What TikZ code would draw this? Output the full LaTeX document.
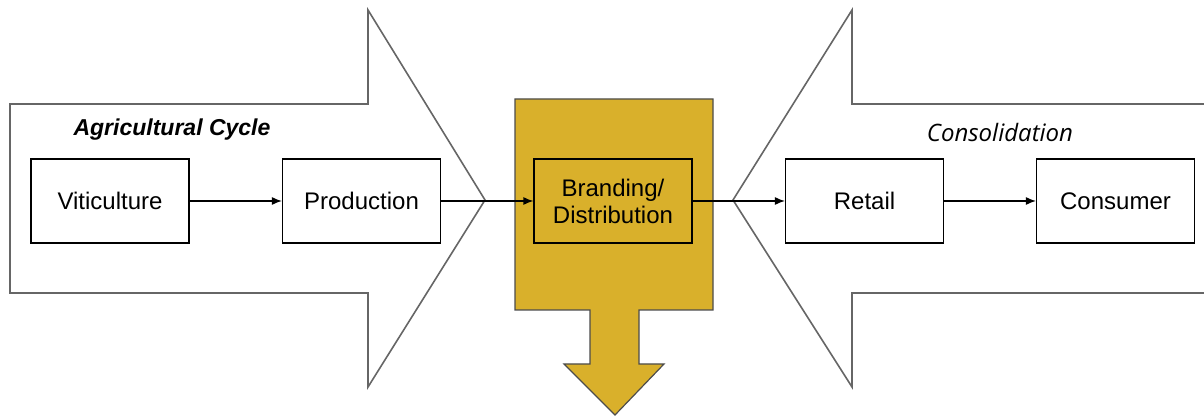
\documentclass[tikz,border=0pt]{standalone}
\usepackage{fontspec}
\setmainfont{Liberation Sans}
\newfontfamily\consfont{Open Sans}
\usetikzlibrary{arrows.meta}
\definecolor{gold}{HTML}{D9B02B}

\begin{document}
\begin{tikzpicture}[x=0.5pt,y=-0.5pt,
  stage/.style={draw, line width=0.6pt, minimum width=79pt, minimum height=42pt, inner sep=0pt, align=center, font=\fontsize{12}{13.5}\selectfont},
  flow/.style={-{Latex[length=5pt,width=4pt]}, line width=0.6pt},
  bigarrow/.style={draw=black!60, line width=0.8pt, fill=white, line join=miter}]
\useasboundingbox (0,0) rectangle (1204,416);

% the two big arrows
\filldraw[bigarrow] (10,104) -- (368,104) -- (368,10) -- (485,200) -- (368,387) -- (368,293) -- (10,293) -- cycle;
\fill[white] (1210,104) -- (852,104) -- (852,10) -- (733,200) -- (852,387) -- (852,293) -- (1210,293) -- cycle;
\draw[bigarrow] (1210,104) -- (852,104) -- (852,10) -- (733,200) -- (852,387) -- (852,293) -- (1210,293);

% gold block with its down arrow
\filldraw[fill=gold, draw=black!70, line width=0.6pt] (515,99) -- (713,99) -- (713,310) -- (639,310) -- (639,364) -- (664,364)
  -- (615,415) -- (564,364) -- (590,364) -- (590,310) -- (515,310) -- cycle;

\node[font=\bfseries\itshape\fontsize{11.5}{13}\selectfont] (agri) at (172,130) {Agricultural Cycle};
\node[font=\consfont\itshape\fontsize{12}{14}\selectfont] (consol) at (1000,133) {Consolidation};

\node[stage] (viti) at (110,201) {Viticulture};
\node[stage] (prod) at (361.5,201) {Production};
\node[stage] (brand) at (613,201) {Branding/\\Distribution};
\node[stage] (retail) at (864.5,201) {Retail};
\node[stage] (consumer) at (1115.5,201) {Consumer};

\draw[flow] (viti) -- (prod);
\draw[flow] (prod) -- (brand);
\draw[flow] (brand) -- (retail);
\draw[flow] (retail) -- (consumer);

\end{tikzpicture}
\end{document}
